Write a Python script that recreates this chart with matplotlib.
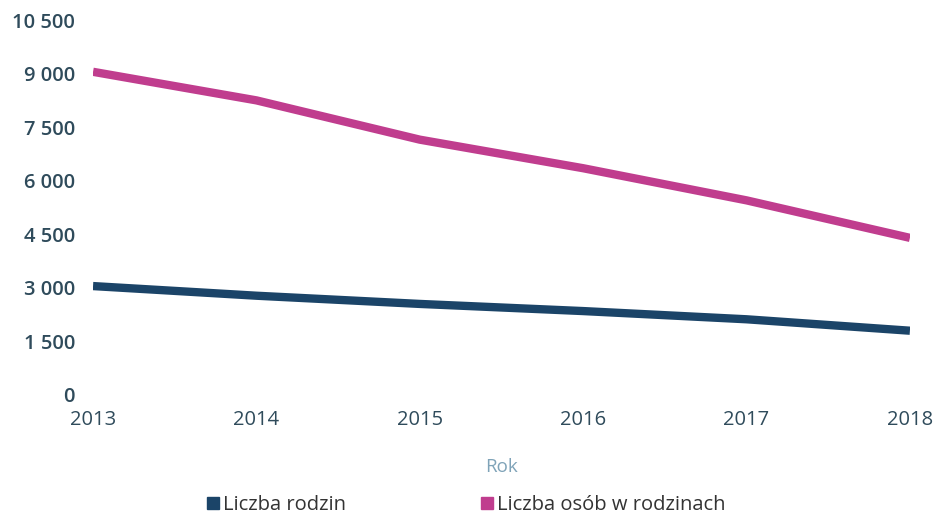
import matplotlib.pyplot as plt
from matplotlib.lines import Line2D

plt.rcParams['font.family'] = ['Open Sans', 'DejaVu Sans']

years = [2013, 2014, 2015, 2016, 2017, 2018]
rodziny = [3050, 2780, 2550, 2350, 2120, 1800]
osoby = [9050, 8250, 7150, 6350, 5450, 4400]
yticks = [0, 1500, 3000, 4500, 6000, 7500, 9000, 10500]
ylabels = ['0', '1 500', '3 000', '4 500', '6 000', '7 500', '9 000', '10 500']

navy = '#1b4468'
magenta = '#c03d8e'
txt = '#2f4b5b'

fig = plt.figure(figsize=(9.37, 5.2), dpi=100)
ax = fig.add_axes([0.0993, 0.2404, 0.8718, 0.7211])

ax.plot(years, rodziny, color=navy, lw=6, solid_capstyle='butt')
ax.plot(years, osoby, color=magenta, lw=6, solid_capstyle='butt')

ax.set_xlim(2013, 2018)
ax.set_ylim(0, 10500)
ax.set_yticks(yticks)
ax.set_yticklabels(ylabels, fontsize=14.5, color=txt, fontweight='semibold')
ax.set_xticks(years)
ax.set_xticklabels([str(y) for y in years], fontsize=14.5, color=txt)
ax.tick_params(axis='y', length=0, pad=13)
ax.tick_params(axis='x', length=0, pad=11)
for s in ax.spines.values():
    s.set_visible(False)

ax.set_xlabel('Rok', fontsize=13.5, color='#7fa3b8', labelpad=20)

handles = [Line2D([], [], color=navy, marker='s', ls='', markersize=9),
           Line2D([], [], color=magenta, marker='s', ls='', markersize=9)]
fig.legend(handles, ['Liczba rodzin', 'Liczba osób w rodzinach'],
           loc='center', bbox_to_anchor=(0.494, 0.028), ncol=2, frameon=False,
           fontsize=14.5, handletextpad=-0.1, handlelength=1.2,
           columnspacing=6.4, labelcolor='#333333')

fig.savefig('out.png', dpi=100, facecolor='white')
